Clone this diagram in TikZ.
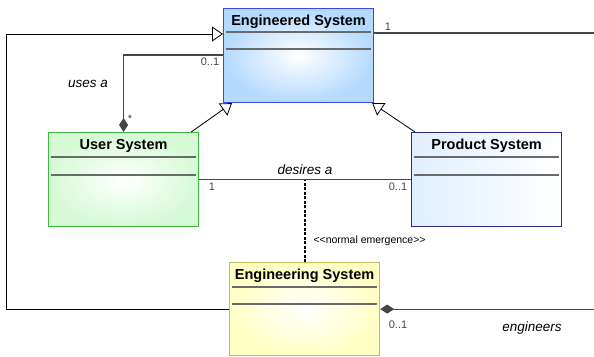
\documentclass[tikz,border=0pt]{standalone}
\usepackage{fontspec}
\setmainfont{Liberation Sans}
\usepackage{xcolor}
\usepackage{tikz}
\usetikzlibrary{calc,arrows.meta,positioning}
\definecolor{engdfill}{HTML}{B4DAFF}
\definecolor{engdline}{HTML}{3848E8}
\definecolor{userfill}{HTML}{D6FAD6}
\definecolor{userline}{HTML}{3CB83C}
\definecolor{prodfill}{HTML}{E0EFFF}
\definecolor{prodline}{HTML}{2A2A88}
\definecolor{enggfill}{HTML}{FFFFC4}
\definecolor{enggline}{HTML}{BDBD5A}
\definecolor{sepline}{HTML}{6A6A6A}
\definecolor{wire}{HTML}{454545}
\tikzset{
  cls/.style={rectangle, anchor=north west, minimum width=150pt, minimum height=94pt, line width=1.2pt, inner sep=0pt},
  ttl/.style={font=\fontsize{14.5}{17}\selectfont\bfseries},
  sep/.style={draw=sepline, line width=1.4pt},
  assoc/.style={draw=wire, line width=1.1pt},
  gen/.style={draw=black, line width=0.8pt, arrows={-Triangle[fill=white, length=11pt, width=15pt]}},
  comp/.style={arrows={Diamond[length=14pt, width=9pt]-}},
  emerg/.style={draw=black, line width=1.8pt, dash pattern=on 3pt off 1.5pt},
  labi/.style={font=\fontsize{13.5}{16}\selectfont\itshape},
  mult/.style={font=\fontsize{11}{13}\selectfont, text=wire},
  stereo/.style={font=\fontsize{10.5}{12}\selectfont},
}
\begin{document}
\begin{tikzpicture}[x=1pt, y=-1pt]
\useasboundingbox (0,0) rectangle (594,356);

% classes
\node[cls, draw=engdline, shade, inner color=white, outer color=engdfill] (engd) at (223,8) {};
\node[cls, draw=userline, shade, inner color=white, outer color=userfill] (user) at (48,132) {};
\node[cls, draw=prodline, shade, left color=prodfill, right color=white] (prod) at (411,132) {};
\node[cls, draw=enggline, minimum height=93pt, shade, inner color=white, outer color=enggfill] (engg) at (229,262) {};

\node[ttl] (engd-t) at ($(engd.north)+(0,13.5)$) {Engineered System};
\node[ttl] (user-t) at ($(user.north)+(0,14)$) {User System};
\node[ttl] (prod-t) at ($(prod.north)+(0,14)$) {Product System};
\node[ttl] (engg-t) at ($(engg.north)+(0,13.5)$) {Engineering System};

\foreach \c/\a/\b in {engd/24/41, user/25/43, prod/25/43, engg/25/42}{
  \draw[sep] ($(\c.north west)+(3,\a)$) -- ($(\c.north east)+(-3,\a)$);
  \draw[sep] ($(\c.north west)+(3,\b)$) -- ($(\c.north east)+(-3,\b)$);
}

% connectors
\coordinate (loopL) at (6,0);
\coordinate (edgeR) at (594,0);
\coordinate (engd-in) at ($(engd.north west)+(0,26)$);
\coordinate (engd-out) at ($(engd.north east)+(0,25)$);
\coordinate (engd-uses) at ($(engd.north west)+(0,47)$);

\draw[gen] (engg.west) -- (engg.west -| loopL) |- (engd-in);
\draw[assoc] (engd-out) -- (engd-out -| edgeR);
\draw[assoc, comp] (engg.east) -- (engg.east -| edgeR);
\draw[assoc, comp] (user.north) |- (engd-uses);
\draw[gen] ($(user.north east)+(-8,0)$) -- ($(engd.south west)+(9,0)$);
\draw[gen] ($(prod.north west)+(4,0)$) -- ($(engd.south east)+(-2,0)$);
\draw[assoc] (user.east) -- (prod.west);
\draw[emerg] (engg.north) -- (engg.north |- user.east);

% labels
\node[mult] (m-out) at (388,27) {1};
\node[mult] (m-uses) at (210,62) {0..1};
\node[mult] (m-star) at (130,119) {*};
\node[labi] (l-uses) at (88,84) {uses a};
\node[labi] (l-des) at (305,170) {desires a};
\node[mult] (m-des1) at (212,187) {1};
\node[mult] (m-des2) at (398,187) {0..1};
\node[stereo, anchor=west] (l-emg) at (310,241) {<{}<normal emergence>{}>};
\node[mult] (m-engs) at (398,325) {0..1};
\node[labi] (l-engs) at (532,328) {engineers};
\end{tikzpicture}
\end{document}
